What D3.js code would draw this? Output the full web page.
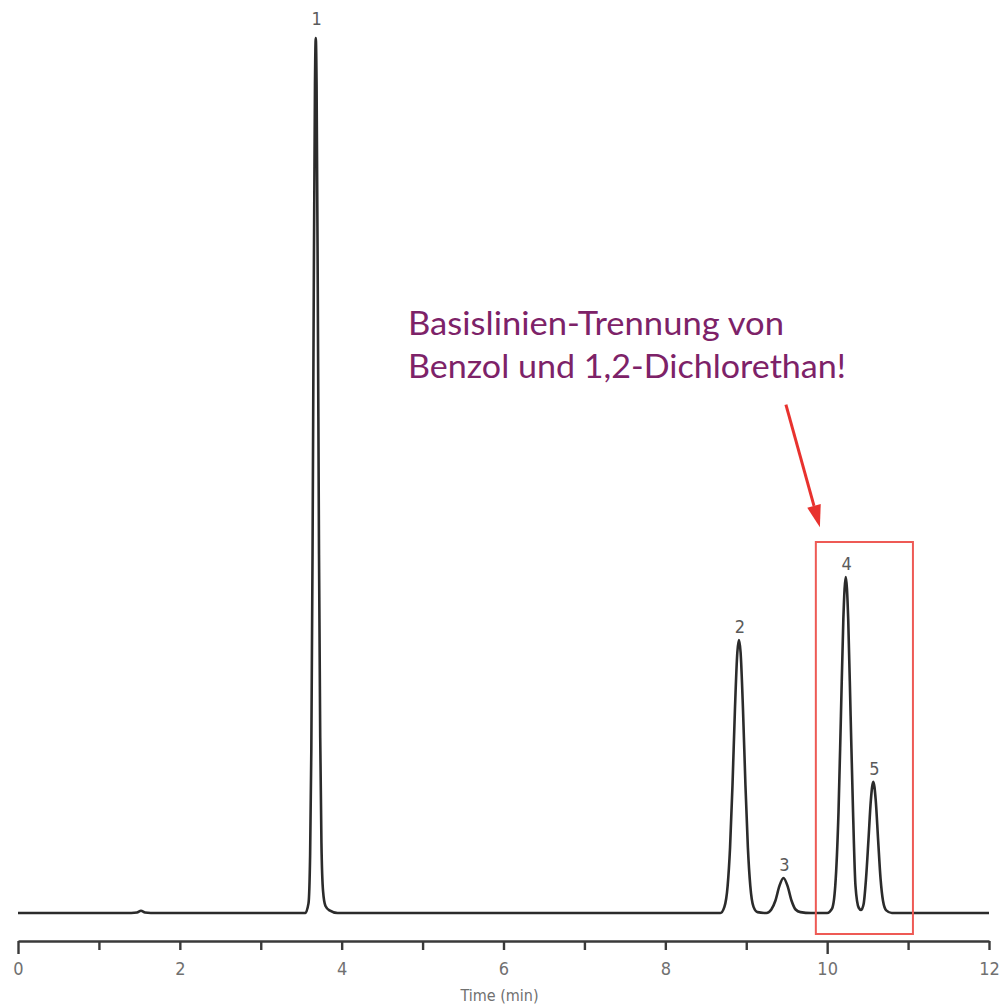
<!DOCTYPE html>
<html>
<head>
<meta charset="utf-8">
<script src="https://cdn.jsdelivr.net/npm/d3@7"></script>
<style>
  body { margin: 0; background: #fff; }
  svg { display: block; }
</style>
</head>
<body>
<svg width="1000" height="1008"></svg>
<script>
// Chromatogramm: Zeit (min) und Signal (relative Einheiten, Peak 1 = 100)
const traceTime = [
    0, 1.40, 1.47, 1.52, 1.57, 1.64,
    3.55, 3.59, 3.61, 3.625, 3.64, 3.655, 3.67, 3.68, 3.69, 3.705, 3.72, 3.735, 3.75, 3.77, 3.80, 3.85, 3.95,
    8.68, 8.73, 8.77, 8.80, 8.83, 8.86, 8.89, 8.91, 8.93, 8.96, 8.99, 9.02, 9.05, 9.09, 9.14, 9.25,
    9.31, 9.36, 9.41, 9.46, 9.51, 9.56, 9.61, 9.67, 9.80,
    10.00, 10.06, 10.10, 10.14, 10.17, 10.20, 10.23, 10.26, 10.29, 10.32, 10.35, 10.39, 10.42,
    10.45, 10.48, 10.51, 10.54, 10.57, 10.60, 10.63, 10.66, 10.69, 10.73, 10.80, 12
];
const traceSignal = [
    0, 0, 0.05, 0.25, 0.05, 0,
    0, 1.1, 6.6, 18.6, 41, 70.7, 94.6, 100, 94.6, 70.7, 41, 20, 8, 2.5, 0.8, 0.3, 0,
    0, 0.7, 3.1, 7.5, 14.6, 23.2, 29.8, 31.2, 29.8, 23.2, 14.6, 7.5, 3.1, 0.7, 0.1, 0,
    0.4, 1.4, 3.1, 4.0, 3.1, 1.4, 0.4, 0.1, 0,
    0, 0.5, 3.1, 11.5, 22.5, 33.6, 38.4, 33.6, 22.5, 11.5, 3.1, 0.6, 0.35,
    1.0, 3.9, 8.3, 12.9, 15.0, 12.9, 8.3, 3.9, 1.4, 0.3, 0, 0
];

// Peaks
const peakNames = ["1", "2", "3", "4", "5"];
const peakTimes = [3.68, 8.91, 9.46, 10.23, 10.57];
const peakHeights = [100, 31.2, 4.0, 38.4, 15.0];

// Achse
const xTicks = d3.range(0, 13);
const xLabelTicks = [0, 2, 4, 6, 8, 10, 12];
const xTitle = "Time (min)";

// Hervorhebung
const boxTime = [9.86, 11.06];
const boxSignal = [-2.4, 42.4];
const noteLines = ["Basislinien-Trennung von", "Benzol und 1,2-Dichlorethan!"];

const svg = d3.select("svg");
const width = 1000;
const height = 1008;
const labelFont = "'Liberation Sans Narrow', 'DejaVu Sans Condensed', Roboto, sans-serif";

const attr_area = {
    left: 18,
    right: 989,
    top: 38,
    baseline: 913,
    axisY: 941
};

const scX = d3.scaleLinear()
    .domain([0, 12])
    .range([attr_area.left, attr_area.right]);

const scY = d3.scaleLinear()
    .domain([0, 100])
    .range([attr_area.baseline, attr_area.top]);

svg.append("rect")
    .attr("width", width)
    .attr("height", height)
    .attr("fill", "#fff");

// X-Achse
const axisX = d3.axisBottom(scX)
    .tickValues(xTicks)
    .tickSize(10)
    .tickSizeOuter(0)
    .tickPadding(11)
    .tickFormat(d => xLabelTicks.includes(d) ? d : "");

const gAxis = svg.append("g")
    .attr("transform", `translate(0, ${attr_area.axisY})`)
    .call(axisX);

gAxis.select(".domain")
    .attr("stroke", "#3a3a3a")
    .attr("stroke-width", 2.6);

gAxis.selectAll(".tick line")
    .attr("stroke", "#3a3a3a")
    .attr("stroke-width", 2.4)
    .attr("y2", d => (d === 0 || d === 10) ? 13 : 9);

gAxis.selectAll(".tick text")
    .attr("fill", "#707070")
    .style("font-family", labelFont)
    .style("font-size", "18px");

svg.append("text")
    .attr("x", scX(5.95))
    .attr("y", 1001)
    .attr("text-anchor", "middle")
    .attr("fill", "#707070")
    .style("font-family", labelFont)
    .style("font-size", "16px")
    .text(xTitle);

// Chromatogramm-Linie
const trace = traceTime.map((t, i) => [t, traceSignal[i]]);

const line = d3.line()
    .x(d => scX(d[0]))
    .y(d => scY(d[1]))
    .curve(d3.curveMonotoneX);

svg.append("path")
    .datum(trace)
    .attr("d", line)
    .attr("fill", "none")
    .attr("stroke", "#2b2b2b")
    .attr("stroke-width", 2.6)
    .attr("stroke-linejoin", "round");

// Peak-Beschriftungen
svg.selectAll(".peak-label")
    .data(peakNames)
    .enter()
    .append("text")
    .attr("class", "peak-label")
    .attr("x", (d, i) => scX(peakTimes[i]) + 1)
    .attr("y", (d, i) => scY(peakHeights[i]) - (i === 0 ? 13 : 7))
    .attr("text-anchor", "middle")
    .attr("fill", "#5a5a5a")
    .style("font-family", labelFont)
    .style("font-size", "18px")
    .text(d => d);

// Rotes Rechteck
svg.append("rect")
    .attr("x", scX(boxTime[0]))
    .attr("y", scY(boxSignal[1]))
    .attr("width", scX(boxTime[1]) - scX(boxTime[0]))
    .attr("height", scY(boxSignal[0]) - scY(boxSignal[1]))
    .attr("fill", "none")
    .attr("stroke", "#ee5a55")
    .attr("stroke-width", 2);

// Pfeil
const arrowFrom = [9.49, 58.1];
const arrowTo = [9.91, 44.1];
const x1 = scX(arrowFrom[0]), y1 = scY(arrowFrom[1]);
const x2 = scX(arrowTo[0]), y2 = scY(arrowTo[1]);
const ang = Math.atan2(y2 - y1, x2 - x1);
const headLen = 22, headHalf = 7;
const bx = x2 - headLen * Math.cos(ang), by = y2 - headLen * Math.sin(ang);

svg.append("line")
    .attr("x1", x1)
    .attr("y1", y1)
    .attr("x2", bx)
    .attr("y2", by)
    .attr("stroke", "#e8322e")
    .attr("stroke-width", 3);

svg.append("path")
    .attr("d", `M${x2},${y2}L${bx + headHalf * Math.sin(ang)},${by - headHalf * Math.cos(ang)}L${bx - headHalf * Math.sin(ang)},${by + headHalf * Math.cos(ang)}Z`)
    .attr("fill", "#e8322e");

// Hinweistext
const noteLen = [376, 438];
svg.selectAll(".note")
    .data(noteLines)
    .enter()
    .append("text")
    .attr("class", "note")
    .attr("x", 408)
    .attr("y", (d, i) => 335 + i * 43)
    .attr("textLength", (d, i) => noteLen[i])
    .attr("lengthAdjust", "spacingAndGlyphs")
    .attr("fill", "#7d2268")
    .style("font-family", "Lato, 'Open Sans', sans-serif")
    .style("font-size", "32px")
    .text(d => d);
</script>
</body>
</html>
